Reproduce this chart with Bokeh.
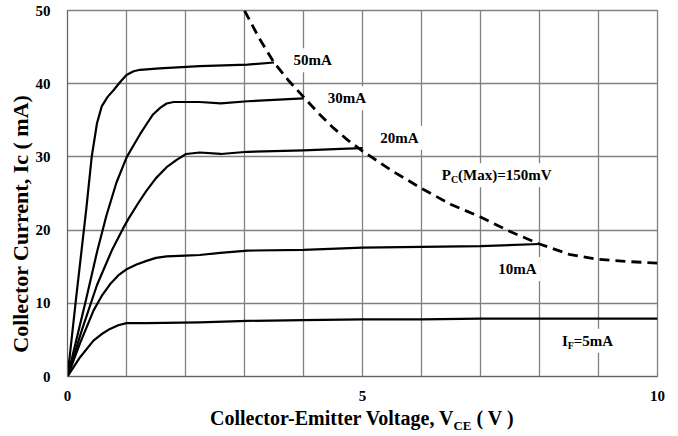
from bokeh.plotting import figure
from bokeh.models import Range1d, FixedTicker, Label, Div
from bokeh.layouts import column
from bokeh.embed import file_html
from bokeh.resources import INLINE

# ---- data ----
v_50 = [0, 0.15, 0.32, 0.41, 0.5, 0.58, 0.68, 0.78, 0.9, 1.0, 1.12, 1.23, 1.56, 2.24, 3.05, 3.5]
i_50 = [0, 11, 23, 30, 34.6, 36.9, 38.2, 39.1, 40.3, 41.2, 41.7, 41.9, 42.1, 42.4, 42.6, 42.9]

v_30 = [0, 0.3, 0.5, 0.66, 0.83, 1.0, 1.12, 1.23, 1.35, 1.45, 1.57, 1.68, 1.8, 1.9, 2.24, 2.6, 3.05, 3.5, 4.0]
i_30 = [0, 10, 17, 22, 26.5, 29.9, 31.6, 33.1, 34.6, 35.8, 36.7, 37.3, 37.5, 37.5, 37.5, 37.3, 37.6, 37.8, 38.0]

v_20 = [0, 0.25, 0.5, 0.75, 0.94, 1.03, 1.2, 1.34, 1.5, 1.68, 1.85, 2.01, 2.24, 2.6, 3.05, 4.0, 4.63, 5.0]
i_20 = [0, 6.5, 12.5, 17.2, 20.2, 21.5, 23.7, 25.4, 27.1, 28.6, 29.6, 30.4, 30.6, 30.4, 30.7, 30.9, 31.1, 31.2]

v_10 = [0, 0.21, 0.44, 0.58, 0.72, 0.86, 1.01, 1.17, 1.34, 1.5, 1.68, 2.0, 2.24, 2.59, 3.05, 4.0, 5.0, 6.0, 7.0, 8.0]
i_10 = [0, 4.5, 9.0, 11.0, 12.6, 13.8, 14.7, 15.3, 15.8, 16.2, 16.4, 16.5, 16.6, 16.9, 17.2, 17.3, 17.6, 17.7, 17.8, 18.1]

v_5 = [0, 0.21, 0.44, 0.58, 0.72, 0.86, 1.0, 1.34, 2.24, 3.05, 4.0, 5.0, 6.0, 7.0, 8.0, 9.0, 10.0]
i_5 = [0, 2.6, 4.9, 5.8, 6.5, 7.0, 7.3, 7.3, 7.4, 7.6, 7.7, 7.8, 7.8, 7.9, 7.9, 7.9, 7.9]

v_pc = [3.0, 3.25, 3.5, 3.75, 4.0, 4.25, 4.5, 4.75, 5.0, 5.5, 6.0, 6.5, 7.0, 7.5, 8.0, 8.5, 9.0, 9.5, 10.0]
i_pc = [50, 46.2, 42.9, 40.4, 38.2, 36.0, 34.0, 32.3, 30.8, 28.1, 25.7, 23.5, 21.8, 19.8, 18.1, 16.7, 16.0, 15.7, 15.5]

x_ticks = [0, 5, 10]
x_grid = [0, 1, 2, 3, 4, 5, 6, 7, 8, 9, 10]
y_ticks = [0, 10, 20, 30, 40, 50]

FONT = "Liberation Serif"
NB = "\u00a0"

p = figure(width=678, height=408, output_backend="svg", toolbar_location=None,
           x_range=Range1d(0, 10), y_range=Range1d(0, 50),
           min_border_left=67, min_border_right=21, min_border_top=10, min_border_bottom=32)
p.background_fill_color = "white"
p.border_fill_color = "white"
p.outline_line_color = "#808080"
p.outline_line_width = 1.3

p.xaxis.ticker = FixedTicker(ticks=x_ticks)
p.yaxis.ticker = FixedTicker(ticks=y_ticks)
p.xgrid.ticker = FixedTicker(ticks=x_grid)
p.ygrid.ticker = FixedTicker(ticks=y_ticks)
for g in (p.xgrid, p.ygrid):
    g.grid_line_color = "#808080"
    g.grid_line_width = 1.3

for ax in (p.xaxis, p.yaxis):
    ax.axis_line_color = "#606060"
    ax.major_tick_in = 0
    ax.major_tick_out = 0
    ax.minor_tick_line_color = None
    ax.major_label_text_font = FONT
    ax.major_label_text_font_style = "bold"
    ax.major_label_text_font_size = "15px"
    ax.major_label_text_color = "black"
p.xaxis.major_label_standoff = 14
p.yaxis.major_label_standoff = 17

p.yaxis.axis_label = "Collector Current, Ic ( mA)" + NB * 11
p.yaxis.axis_label_text_font = FONT
p.yaxis.axis_label_text_font_style = "bold"
p.yaxis.axis_label_text_font_size = "22px"
p.yaxis.axis_label_text_color = "black"
p.yaxis.axis_label_standoff = 0

for vs, cs in ((v_50, i_50), (v_30, i_30), (v_20, i_20), (v_10, i_10), (v_5, i_5)):
    p.line(vs, cs, line_color="black", line_width=2.2, line_join="round")

p.line(v_pc, i_pc, line_color="black", line_width=2.8, line_dash="10 6")

PAD = 4


def lab(x, y, text, size="15px", align="left", bg=False, xo=0):
    kw = dict(x=x, y=y, text=text, text_font=FONT, text_font_style="bold",
              text_font_size=size, text_align=align, text_baseline="middle",
              text_color="black", x_offset=xo)
    if bg:
        kw.update(background_fill_color="white", padding=PAD, x_offset=xo - PAD)
    p.add_layout(Label(**kw))


# curve labels
lab(3.83, 43.2, "50mA", bg=True)
lab(4.41, 38.0, "30mA", bg=True)
lab(5.30, 32.6, "20mA", bg=True)
lab(7.30, 14.7, "10mA", bg=True)

# P_C(Max)=150mV
pc_anchor = 6.50
lab(pc_anchor, 27.5, "(Max)=150mV", bg=True, xo=7)
lab(pc_anchor, 27.5, "P", align="right")
lab(pc_anchor, 26.9, "C", size="10px")

# I_F=5mA
if_anchor = 8.48
lab(if_anchor, 4.9, "=5mA", bg=True, xo=6)
lab(if_anchor, 4.9, "I", align="right")
lab(if_anchor, 4.3, "F", size="10px")

title = Div(
    text=('<div style="font-family:\'Liberation Serif\';font-weight:bold;font-size:20px;'
          'line-height:20px;text-align:left;margin-left:210px;color:black;white-space:nowrap;">'
          'Collector-Emitter Voltage, V<sub style="font-size:13px;line-height:0;">CE</sub> ( V )</div>'),
    width=678, height=28, margin=0)

layout = column(p, title, spacing=0)
open("out.html", "w").write(file_html(layout, INLINE))
